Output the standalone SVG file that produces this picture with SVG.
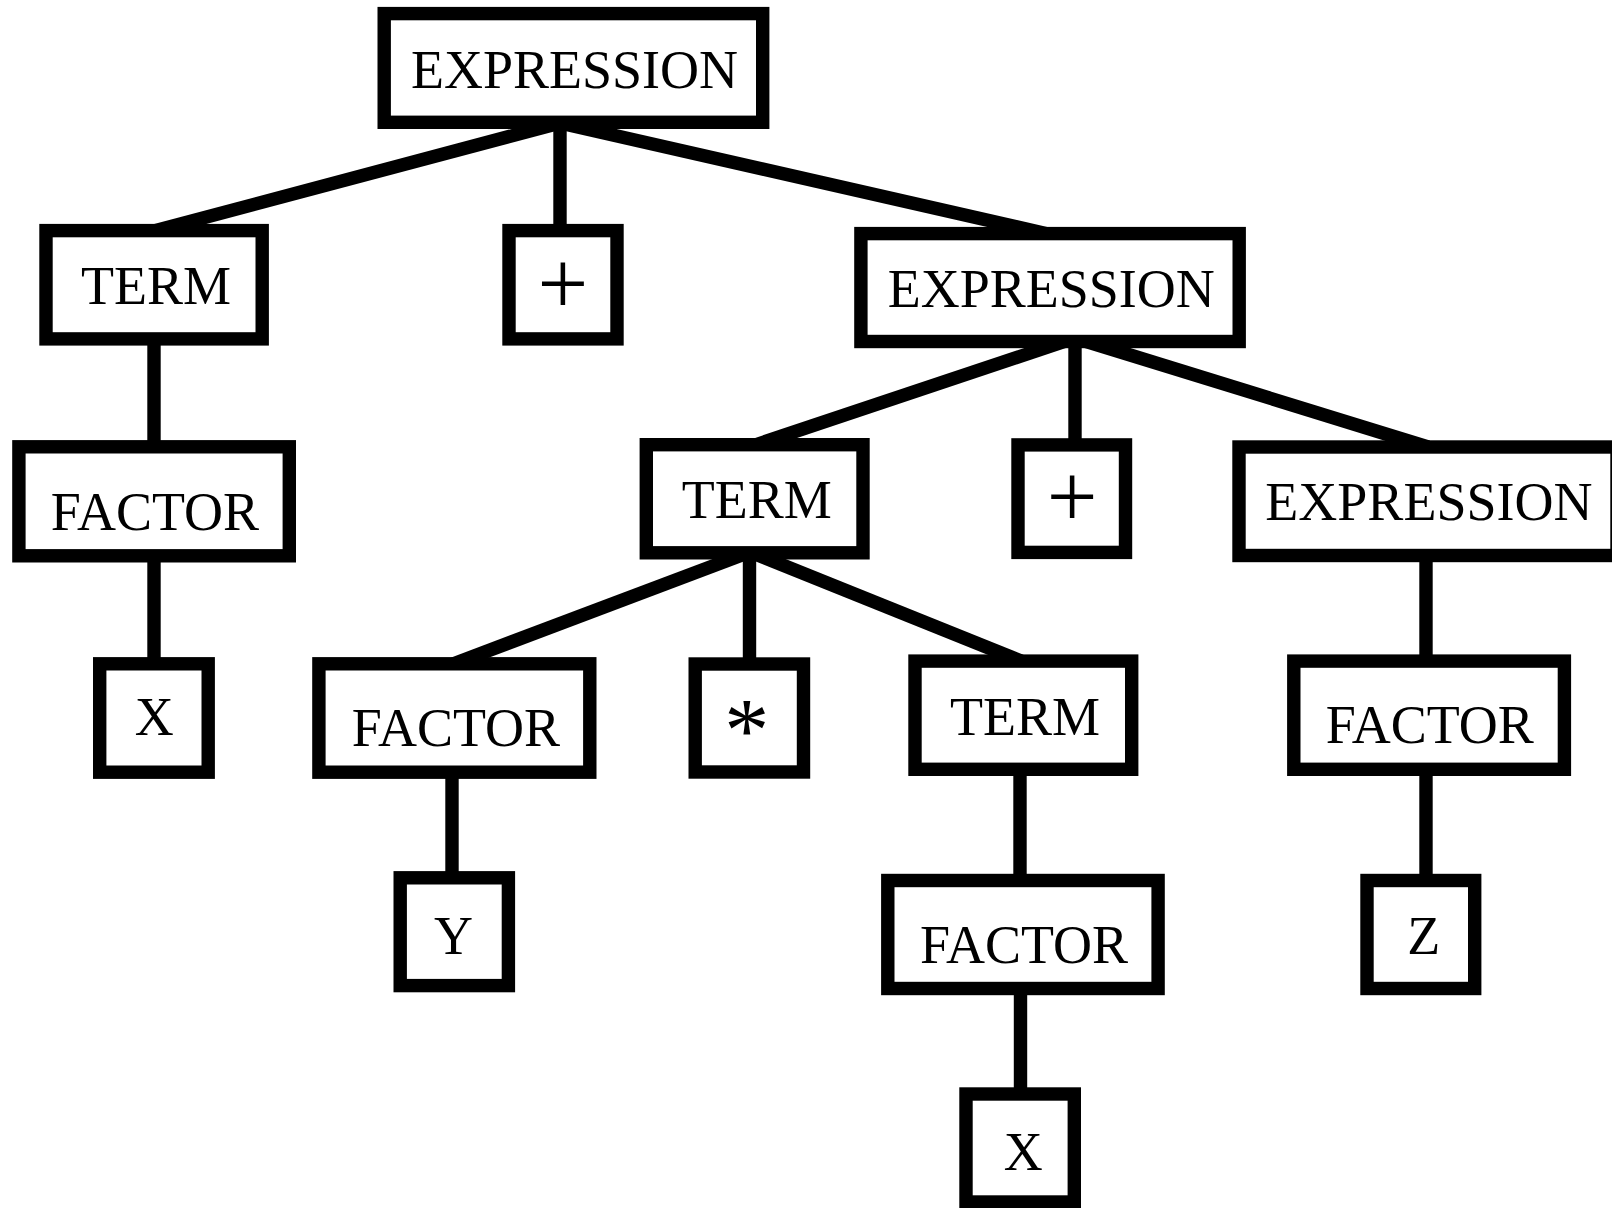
<svg xmlns="http://www.w3.org/2000/svg" width="1612" height="1208" viewBox="0 0 1612 1208">
<style>
.box{fill:#fff;stroke:#000;stroke-width:13.4}
.edge{stroke:#000;stroke-width:13.4;fill:none;stroke-linecap:butt}
.lbl{font-family:"Liberation Serif","Times New Roman",serif;font-size:54px;text-anchor:middle;fill:#000}
.sym{font-size:90px}
</style>
<rect width="1612" height="1208" fill="#fff"/>
<g id="connectors" class="edge">
<line x1="560" y1="123" x2="154" y2="231"/>
<line x1="560" y1="123" x2="560" y2="231"/>
<line x1="560" y1="123" x2="1048" y2="234"/>
<line x1="154" y1="338" x2="154" y2="447"/>
<line x1="154" y1="555" x2="154" y2="664"/>
<line x1="1075" y1="338" x2="755" y2="445"/>
<line x1="1075" y1="338" x2="1075" y2="445"/>
<line x1="1075" y1="338" x2="1428" y2="447"/>
<line x1="750" y1="552" x2="453" y2="664"/>
<line x1="749.5" y1="552" x2="749.5" y2="664"/>
<line x1="750" y1="552" x2="1021" y2="661"/>
<line x1="452" y1="772" x2="452" y2="878"/>
<line x1="1020" y1="769" x2="1020" y2="881"/>
<line x1="1020.5" y1="988" x2="1020.5" y2="1094"/>
<line x1="1426" y1="555" x2="1426" y2="661"/>
<line x1="1426" y1="769" x2="1426" y2="881"/>
</g>
<g id="expr0"><rect class="box" x="384.2" y="13.6" width="378.5" height="108.7"/><text class="lbl" x="574.5" y="88">EXPRESSION</text></g>
<g id="term1"><rect class="box" x="46" y="230.6" width="216.2" height="108.3"/><text class="lbl" x="156" y="304.2">TERM</text></g>
<g id="plus1"><rect class="box" x="509" y="230.6" width="108" height="108.3"/><text class="lbl sym" x="563" y="314">+</text></g>
<g id="expr1"><rect class="box" x="860.9" y="233.6" width="378.3" height="107.9"/><text class="lbl" x="1051.2" y="306.9">EXPRESSION</text></g>
<g id="factor1"><rect class="box" x="18.9" y="446.8" width="270.4" height="109"/><text class="lbl" x="154.9" y="530">FACTOR</text></g>
<g id="term2"><rect class="box" x="646.3" y="444.7" width="216.7" height="108.1"/><text class="lbl" x="756.7" y="518.3">TERM</text></g>
<g id="plus2"><rect class="box" x="1018" y="444.9" width="107.5" height="107.5"/><text class="lbl sym" x="1072.1" y="527">+</text></g>
<g id="expr2"><rect class="box" x="1239" y="447" width="378" height="108.5"/><text class="lbl" x="1428.9" y="520">EXPRESSION</text></g>
<g id="x1"><rect class="box" x="99.7" y="663.8" width="108.5" height="108.4"/><text class="lbl" x="154.3" y="734.5">X</text></g>
<g id="factor2"><rect class="box" x="318.9" y="663.8" width="270.9" height="108.4"/><text class="lbl" x="455.9" y="745.8">FACTOR</text></g>
<g id="star"><rect class="box" x="695.2" y="664" width="108.3" height="108"/><text class="lbl sym" x="746.7" y="761">*</text></g>
<g id="term3"><rect class="box" x="915" y="661.1" width="216.7" height="108.2"/><text class="lbl" x="1025" y="734.9">TERM</text></g>
<g id="factor3"><rect class="box" x="1293.8" y="661.1" width="270.6" height="108.2"/><text class="lbl" x="1429.8" y="742.7">FACTOR</text></g>
<g id="y1"><rect class="box" x="400.2" y="877.8" width="108.2" height="107.8"/><text class="lbl" x="453.6" y="953.6">Y</text></g>
<g id="factor4"><rect class="box" x="887.8" y="880.5" width="270.3" height="108"/><text class="lbl" x="1024" y="962.5">FACTOR</text></g>
<g id="z1"><rect class="box" x="1367" y="880.5" width="107.7" height="108"/><text class="lbl" x="1423.8" y="953.6">Z</text></g>
<g id="x2"><rect class="box" x="966" y="1094" width="108.3" height="108"/><text class="lbl" x="1023.3" y="1170">X</text></g>
</svg>
